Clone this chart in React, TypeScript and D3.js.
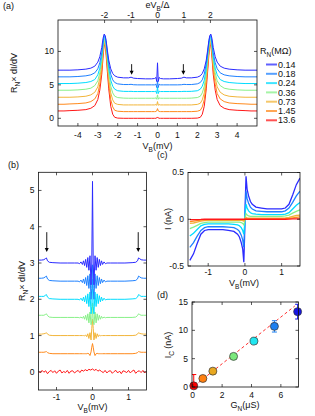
import { useEffect, useRef } from "react";
import * as d3 from "d3";

type G = d3.Selection<SVGGElement, unknown, null, undefined>;
type Pt = [number, number];
type Lin = d3.ScaleLinear<number, number>;

const W = 315;
const H = 416;
const FONT = "'Liberation Sans', Arial, Helvetica, sans-serif";

// junction resistances, top curve (lowest R_N) first
const rnLabels = ["0.14", "0.18", "0.24", "0.36", "0.73", "1.45", "13.6"];
const lineColors = ["#2b2bff", "#1e80ff", "#00dcff", "#88f088", "#f2b53a", "#ff8a1c", "#ff1818"];
const pointColors = ["#1414e6", "#1e80f0", "#20e6f0", "#7de87d", "#e8a820", "#ff8010", "#ff0000"];

// ---- (a) wide-bias dI/dV, positive half (curves are symmetric) ----
const delta = 1.33; // mV, for the eV/Δ axis
const biasA = [0, 0.04, 0.08, 0.15, 0.3, 0.6, 1.0, 1.2, 1.33, 1.45, 1.7, 2.0, 2.15, 2.25, 2.35, 2.45, 2.52, 2.58, 2.63, 2.68, 2.74, 2.8, 2.9, 3.0, 3.15, 3.35, 3.6, 4.0, 4.4, 4.7, 5.0];
const a014 = [8.3, 5.5, 6.1, 5.95, 5.9, 5.9, 5.95, 6.0, 6.15, 6.05, 6.05, 6.15, 6.35, 6.7, 7.4, 8.7, 10.2, 11.6, 12.4, 12.6, 11.9, 10.6, 9.2, 8.4, 7.8, 7.5, 7.35, 7.25, 7.2, 7.2, 7.2];
const a018 = [5.6, 4.6, 5.1, 5.0, 5.0, 5.0, 5.0, 5.02, 5.08, 5.05, 5.05, 5.15, 5.35, 5.75, 6.6, 8.2, 9.9, 11.4, 12.3, 12.4, 11.3, 9.8, 8.3, 7.4, 6.8, 6.5, 6.35, 6.25, 6.2, 6.2, 6.2];
const a024 = [4.7, 3.7, 4.05, 4.0, 4.0, 4.0, 4.0, 4.0, 4.03, 4.02, 4.03, 4.12, 4.35, 4.8, 5.7, 7.5, 9.4, 11.0, 12.1, 12.2, 10.9, 9.2, 7.5, 6.5, 5.8, 5.5, 5.35, 5.25, 5.2, 5.2, 5.2];
const a036 = [3.5, 2.85, 3.05, 3.0, 3.0, 3.0, 3.0, 3.0, 3.0, 3.0, 3.02, 3.1, 3.3, 3.8, 4.8, 6.8, 8.9, 10.6, 11.8, 11.9, 10.4, 8.6, 6.8, 5.6, 4.9, 4.5, 4.35, 4.25, 4.2, 4.2, 4.2];
const a073 = [2.5, 1.95, 2.05, 2.0, 2.0, 2.0, 2.0, 2.0, 2.0, 2.0, 2.0, 2.08, 2.25, 2.75, 3.8, 6.0, 8.3, 10.2, 11.5, 11.6, 10.0, 8.0, 6.0, 4.7, 3.9, 3.5, 3.3, 3.2, 3.15, 3.15, 3.15];
const a145 = [1.45, 1.1, 1.02, 1.0, 1.0, 1.0, 1.0, 1.0, 1.0, 1.0, 1.0, 1.06, 1.2, 1.7, 2.8, 5.2, 7.7, 9.8, 11.2, 11.3, 9.5, 7.3, 5.1, 3.7, 2.9, 2.5, 2.3, 2.2, 2.15, 2.1, 2.1];
const a136 = [0.2, 0.05, 0, 0, 0, 0, 0, 0, 0, 0, 0, 0.03, 0.15, 0.6, 1.8, 4.4, 7.0, 9.4, 10.9, 11.0, 9.0, 6.6, 4.2, 2.8, 1.9, 1.5, 1.3, 1.2, 1.15, 1.1, 1.1];
const curvesA = [a014, a018, a024, a036, a073, a145, a136];
const xTicksA = [-4, -3, -2, -1, 0, 1, 2, 3, 4];
const topTicksA = [-2, -1, 0, 1, 2];
const yTicksA = [0, 5, 10];

// ---- (b) low-bias dI/dV, positive half ----
const biasB = [0, 0.02, 0.04, 0.07, 0.1, 0.13, 0.16, 0.19, 0.22, 0.25, 0.28, 0.32, 0.36, 0.4, 0.5, 0.7, 0.9, 1.1, 1.2, 1.25, 1.28, 1.31, 1.35, 1.42, 1.5];
const b014 = [5.25, 3.0, 2.4, 3.2, 2.8, 3.15, 2.88, 3.1, 2.93, 3.06, 2.96, 3.03, 2.98, 3.0, 3.0, 3.0, 3.0, 3.01, 3.02, 3.06, 3.14, 3.12, 3.09, 3.08, 3.08];
const b018 = [2.95, 2.3, 2.0, 2.7, 2.3, 2.65, 2.38, 2.6, 2.43, 2.56, 2.46, 2.53, 2.48, 2.5, 2.5, 2.5, 2.5, 2.51, 2.52, 2.56, 2.64, 2.62, 2.59, 2.58, 2.58];
const b024 = [2.55, 1.8, 1.6, 2.2, 1.8, 2.15, 1.88, 2.1, 1.93, 2.06, 1.96, 2.03, 1.98, 2.0, 2.0, 2.0, 2.0, 2.01, 2.02, 2.06, 2.13, 2.11, 2.08, 2.08, 2.08];
const b036 = [1.9, 1.4, 1.3, 1.65, 1.35, 1.6, 1.42, 1.56, 1.45, 1.53, 1.48, 1.51, 1.49, 1.5, 1.5, 1.5, 1.5, 1.5, 1.51, 1.55, 1.6, 1.58, 1.56, 1.56, 1.56];
const b073 = [1.45, 1.2, 0.88, 1.08, 0.92, 1.05, 0.97, 1.02, 0.99, 1.0, 1.0, 1.0, 1.0, 1.0, 1.0, 1.0, 1.0, 1.0, 1.01, 1.04, 1.08, 1.06, 1.05, 1.04, 1.04];
const b145 = [0.78, 0.68, 0.55, 0.45, 0.5, 0.51, 0.5, 0.5, 0.5, 0.5, 0.5, 0.5, 0.5, 0.5, 0.5, 0.5, 0.5, 0.5, 0.51, 0.53, 0.56, 0.55, 0.54, 0.54, 0.54];
const curvesB = [b014, b018, b024, b036, b073, b145];
// the 13.6 MΩ trace is noisy, so it is kept on its own full grid
const biasBRed = [-1.5, -1.45, -1.4, -1.35, -1.3, -1.25, -1.2, -1.15, -1.1, -1.05, -1.0, -0.95, -0.9, -0.85, -0.8, -0.75, -0.7, -0.65, -0.6, -0.55, -0.5, -0.45, -0.4, -0.35, -0.3, -0.25, -0.2, -0.15, -0.1, -0.05, 0, 0.05, 0.1, 0.15, 0.2, 0.25, 0.3, 0.35, 0.4, 0.45, 0.5, 0.55, 0.6, 0.65, 0.7, 0.75, 0.8, 0.85, 0.9, 0.95, 1.0, 1.05, 1.1, 1.15, 1.2, 1.25, 1.3, 1.35, 1.4, 1.45, 1.5];
const b136 = [0.02, -0.03, 0.04, -0.01, 0.03, -0.05, 0.01, 0.04, -0.02, 0.03, -0.04, 0.02, 0.05, -0.03, 0.01, -0.02, 0.04, -0.04, 0.02, 0.03, -0.03, 0.01, 0.04, -0.02, 0.05, 0.02, 0.06, 0.03, 0.07, 0.05, 0.08, 0.04, 0.07, 0.02, 0.05, 0.01, -0.02, 0.04, -0.03, 0.02, 0.03, -0.04, 0.01, 0.04, -0.03, 0.02, -0.05, 0.03, 0.01, -0.02, 0.04, -0.03, 0.02, 0.05, -0.04, 0.01, 0.03, -0.02, 0.04, -0.03, 0.02];
const yTicksB = [0, 1, 2, 3, 4, 5];
const xTicksB = [-1, 0, 1];

// ---- (c) I-V, positive half (antisymmetric) ----
const biasC = [0, 0.01, 0.03, 0.06, 0.1, 0.15, 0.2, 0.3, 0.45, 0.6, 0.8, 1.0, 1.1, 1.2, 1.3, 1.4, 1.5];
const c014 = [0, 0.2, 0.46, 0.32, 0.25, 0.19, 0.16, 0.13, 0.12, 0.11, 0.11, 0.11, 0.12, 0.16, 0.26, 0.37, 0.44];
const c018 = [0, 0.12, 0.3, 0.22, 0.17, 0.13, 0.11, 0.09, 0.085, 0.08, 0.08, 0.08, 0.09, 0.12, 0.18, 0.25, 0.3];
const c024 = [0, 0.07, 0.16, 0.12, 0.09, 0.07, 0.06, 0.055, 0.05, 0.05, 0.05, 0.05, 0.055, 0.07, 0.11, 0.15, 0.18];
const c036 = [0, 0.03, 0.06, 0.045, 0.035, 0.03, 0.03, 0.03, 0.03, 0.03, 0.03, 0.03, 0.035, 0.045, 0.065, 0.085, 0.1];
const c073 = [0, 0.01, 0.02, 0.015, 0.012, 0.012, 0.012, 0.012, 0.012, 0.012, 0.012, 0.012, 0.015, 0.02, 0.03, 0.04, 0.045];
const c145 = [0, 0.004, 0.006, 0.005, 0.005, 0.005, 0.005, 0.005, 0.005, 0.005, 0.005, 0.005, 0.006, 0.01, 0.015, 0.02, 0.025];
const c136 = [0, 0, 0, 0, 0, 0, 0, 0, 0, 0, 0, 0, 0, 0.002, 0.003, 0.004, 0.005];
const curvesC = [c014, c018, c024, c036, c073, c145, c136];
const xTicksC = [-1, 0, 1];
const yTicksC = [-0.5, 0, 0.5];

// ---- (d) critical current vs normal conductance, low G first ----
const gN = [0.07, 0.69, 1.37, 2.78, 4.17, 5.56, 7.14];
const iC = [0.2, 1.5, 2.8, 5.4, 8.1, 10.7, 13.3];
const iCErr = [2.0, 0, 0, 0, 0, 1.0, 1.3];
const fitG = [0.4, 6.95];
const fitI = [0.8, 14.3];
const xTicksD = [0, 2, 4, 6];
const yTicksD = [0, 5, 10, 15];

const mirror = (xs: number[], ys: number[], odd = false): Pt[] => {
  const left = xs.slice(1).map((x, i) => [-x, odd ? -ys[i + 1] : ys[i + 1]] as Pt).reverse();
  return [...left, ...xs.map((x, i) => [x, ys[i]] as Pt)];
};

const richText = (g: G, x: number, y: number, parts: string[], size: number, anchor = "middle", rot = 0) => {
  const t = g
    .append("text")
    .attr("transform", `translate(${x},${y}) rotate(${rot})`)
    .attr("text-anchor", anchor)
    .attr("font-size", size);
  parts.forEach((p, i) => {
    const sub = i % 2 === 1;
    t.append("tspan")
      .attr("font-size", sub ? size * 0.72 : size)
      .attr("dy", i === 0 ? size * 0.35 : sub ? size * 0.28 : -size * 0.28)
      .text(p);
  });
};

const frame = (
  g: G,
  x: Lin,
  y: Lin,
  xt: number[],
  yt: number[],
  xLabDy: number,
  top?: { scale: Lin; ticks: number[] },
) => {
  const [x0, x1] = x.range();
  const [yb, ytp] = y.range();
  const tl = 3;
  g.append("rect")
    .attr("x", x0)
    .attr("y", ytp)
    .attr("width", x1 - x0)
    .attr("height", yb - ytp)
    .attr("fill", "none")
    .attr("stroke", "#111")
    .attr("stroke-width", 0.8);
  const tk = g.append("g").attr("stroke", "#111").attr("stroke-width", 0.7);
  xt.forEach((v) => {
    tk.append("line").attr("x1", x(v)).attr("x2", x(v)).attr("y1", yb).attr("y2", yb - tl);
    if (!top) tk.append("line").attr("x1", x(v)).attr("x2", x(v)).attr("y1", ytp).attr("y2", ytp + tl);
    g.append("text")
      .attr("x", x(v))
      .attr("y", yb + xLabDy)
      .attr("dy", "0.35em")
      .attr("text-anchor", "middle")
      .attr("font-size", 8.5)
      .text(String(v));
  });
  if (top) {
    top.ticks.forEach((v) => {
      const px = top.scale(v);
      tk.append("line").attr("x1", px).attr("x2", px).attr("y1", ytp).attr("y2", ytp + tl);
      g.append("text")
        .attr("x", px)
        .attr("y", ytp - 4.5)
        .attr("dy", "0.35em")
        .attr("text-anchor", "middle")
        .attr("font-size", 8.5)
        .text(String(v));
    });
  }
  yt.forEach((v) => {
    tk.append("line").attr("x1", x0).attr("x2", x0 + tl).attr("y1", y(v)).attr("y2", y(v));
    tk.append("line").attr("x1", x1).attr("x2", x1 - tl).attr("y1", y(v)).attr("y2", y(v));
    g.append("text")
      .attr("x", x0 - 4)
      .attr("y", y(v))
      .attr("dy", "0.35em")
      .attr("text-anchor", "end")
      .attr("font-size", 8.5)
      .text(String(v));
  });
};

const clip = (svg: d3.Selection<SVGSVGElement, unknown, null, undefined>, id: string, x: Lin, y: Lin) => {
  const [x0, x1] = x.range();
  const [yb, ytp] = y.range();
  svg.append("clipPath").attr("id", id).append("rect").attr("x", x0).attr("y", ytp).attr("width", x1 - x0).attr("height", yb - ytp);
};

const arrow = (g: G, x: number, y1: number, y2: number) => {
  g.append("line").attr("x1", x).attr("x2", x).attr("y1", y1).attr("y2", y2 - 2).attr("stroke", "#000").attr("stroke-width", 0.9);
  g.append("path").attr("d", `M${x - 2},${y2 - 4}L${x + 2},${y2 - 4}L${x},${y2}Z`).attr("fill", "#000");
};

const App = () => {
  const ref = useRef<SVGSVGElement | null>(null);

  useEffect(() => {
    const svg = d3.select(ref.current as SVGSVGElement);
    svg.selectAll("*").remove();
    const root = svg.append("g").attr("font-family", FONT).attr("fill", "#111") as unknown as G;

    // ---------- (a) ----------
    const xA = d3.scaleLinear().domain([-5, 5]).range([58, 257]);
    const yA = d3.scaleLinear().domain([-1.15, 14.7]).range([126, 20]);
    const xTopA = d3.scaleLinear().domain([-5 / delta, 5 / delta]).range([58, 257]);
    clip(svg, "clipA", xA, yA);
    const lineA = d3.line<Pt>().x((d) => xA(d[0])).y((d) => yA(d[1]));
    const gA = root.append("g").attr("clip-path", "url(#clipA)");
    curvesA
      .map((c, i) => ({ c, i }))
      .reverse()
      .forEach(({ c, i }) => {
        gA.append("path")
          .attr("d", lineA(mirror(biasA, c)))
          .attr("fill", "none")
          .attr("stroke", lineColors[i])
          .attr("stroke-width", 1);
      });
    frame(root, xA, yA, xTicksA, yTicksA, 9, { scale: xTopA, ticks: topTicksA });
    arrow(root, xA(-1.3), yA(8.1), yA(6.5));
    arrow(root, xA(1.3), yA(8.1), yA(6.5));
    richText(root, 157.5, 5, ["eV", "B", "/Δ"], 9);
    richText(root, 157.5, 146, ["V", "B", "(mV)"], 9);
    richText(root, 14, 73, ["R", "N", "× dI/dV"], 9, "middle", -90);
    richText(root, 3, 6, ["(a)"], 9, "start");
    // legend
    richText(root, 260, 51, ["R", "N", "(MΩ)"], 9, "start");
    rnLabels.forEach((lab, i) => {
      const ly = 64.5 + i * 9.3;
      root.append("line").attr("x1", 266).attr("x2", 277).attr("y1", ly).attr("y2", ly)
        .attr("stroke", lineColors[i]).attr("stroke-width", 2).attr("stroke-opacity", 0.75);
      root.append("text").attr("x", 278).attr("y", ly).attr("dy", "0.35em").attr("font-size", 9).text(lab);
    });

    // ---------- (b) ----------
    const xB = d3.scaleLinear().domain([-1.5, 1.5]).range([38.5, 146.5]);
    const yB = d3.scaleLinear().domain([-0.5, 5.5]).range([390, 172.3]);
    clip(svg, "clipB", xB, yB);
    const lineB = d3.line<Pt>().x((d) => xB(d[0])).y((d) => yB(d[1]));
    const gB = root.append("g").attr("clip-path", "url(#clipB)");
    gB.append("path")
      .attr("d", lineB(biasBRed.map((v, i) => [v, b136[i]] as Pt)))
      .attr("fill", "none")
      .attr("stroke", lineColors[6])
      .attr("stroke-width", 1);
    curvesB
      .map((c, i) => ({ c, i }))
      .reverse()
      .forEach(({ c, i }) => {
        gB.append("path")
          .attr("d", lineB(mirror(biasB, c)))
          .attr("fill", "none")
          .attr("stroke", lineColors[i])
          .attr("stroke-width", 1);
      });
    frame(root, xB, yB, xTicksB, yTicksB, 7);
    arrow(root, xB(-1.27), yB(3.85), yB(3.3));
    arrow(root, xB(1.27), yB(3.85), yB(3.3));
    richText(root, 92.5, 407, ["V", "B", "(mV)"], 9);
    richText(root, 22, 281, ["R", "N", "× dI/dV"], 9, "middle", -90);
    richText(root, 8, 165, ["(b)"], 9, "start");

    // ---------- (c) ----------
    const xC = d3.scaleLinear().domain([-1.55, 1.5]).range([188, 300]);
    const yC = d3.scaleLinear().domain([-0.5, 0.5]).range([266, 172.5]);
    clip(svg, "clipC", xC, yC);
    const lineC = d3.line<Pt>().x((d) => xC(d[0])).y((d) => yC(d[1]));
    const gC = root.append("g").attr("clip-path", "url(#clipC)");
    curvesC.forEach((c, i) => {
      gC.append("path")
        .attr("d", lineC(mirror(biasC, c, true)))
        .attr("fill", "none")
        .attr("stroke", lineColors[i])
        .attr("stroke-width", 1.3);
    });
    frame(root, xC, yC, xTicksC, yTicksC, 6.5);
    richText(root, 244, 283, ["V", "B", "(mV)"], 9);
    richText(root, 168, 219, ["I (nA)"], 9, "middle", -90);
    richText(root, 157, 155, ["(c)"], 9, "start");

    // ---------- (d) ----------
    const xD = d3.scaleLinear().domain([-0.05, 7.2]).range([192, 298.5]);
    const yD = d3.scaleLinear().domain([0, 15]).range([387, 302]);
    clip(svg, "clipD", xD, yD);
    const gD = root.append("g").attr("clip-path", "url(#clipD)");
    gD.append("line")
      .attr("x1", xD(fitG[0])).attr("x2", xD(fitG[1]))
      .attr("y1", yD(fitI[0])).attr("y2", yD(fitI[1]))
      .attr("stroke", "#ff3030").attr("stroke-width", 1).attr("stroke-dasharray", "3,2.5");
    gN.forEach((gv, k) => {
      const ci = 6 - k;
      const e = iCErr[k];
      if (e > 0) {
        const px = xD(gv);
        const eg = gD.append("g").attr("stroke", pointColors[ci]).attr("stroke-width", 1);
        eg.append("line").attr("x1", px).attr("x2", px).attr("y1", yD(iC[k] - e)).attr("y2", yD(iC[k] + e));
        eg.append("line").attr("x1", px - 2.5).attr("x2", px + 2.5).attr("y1", yD(iC[k] + e)).attr("y2", yD(iC[k] + e));
        eg.append("line").attr("x1", px - 2.5).attr("x2", px + 2.5).attr("y1", yD(iC[k] - e)).attr("y2", yD(iC[k] - e));
      }
    });
    gN.forEach((gv, k) => {
      root.append("circle")
        .attr("cx", xD(gv)).attr("cy", yD(iC[k])).attr("r", 4)
        .attr("fill", pointColors[6 - k]).attr("stroke", "#333").attr("stroke-width", 0.7);
    });
    frame(root, xD, yD, xTicksD, yTicksD, 8);
    richText(root, 245, 405, ["G", "N", "(μS)"], 9);
    richText(root, 168, 345, ["I", "C", " (nA)"], 9, "middle", -90);
    richText(root, 157, 295, ["(d)"], 9, "start");
  }, []);

  return (
    <svg
      ref={ref}
      width={W}
      height={H}
      style={{ position: "fixed", left: 0, top: 0, background: "#fff", display: "block" }}
    />
  );
};

export default App;
